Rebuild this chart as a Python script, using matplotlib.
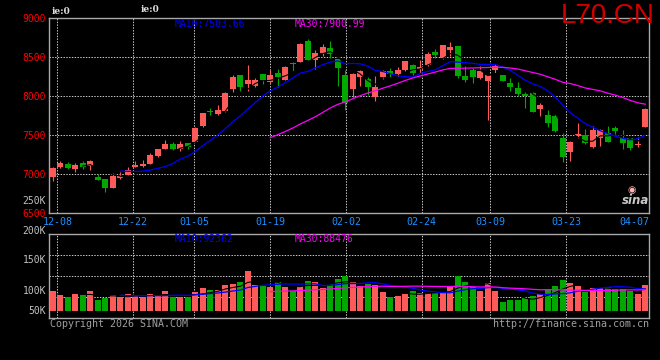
import matplotlib
matplotlib.use('Agg')
import matplotlib.pyplot as plt
import numpy as np
import pandas as pd
from matplotlib.transforms import blended_transform_factory

# ---------------- data ----------------
opens = [6962, 7085, 7128, 7064, 7145, 7100, 6962, 6936, 6821, 6945,
         6990, 7090, 7098, 7133, 7231, 7321, 7385, 7321, 7398, 7415,
         7616, 7802, 7770, 7807, 8090, 8269, 8154, 8128, 8282, 8179,
         8295, 8205, 8412, 8436, 8705, 8461, 8551, 8615, 8474, 8269,
         8090, 8243, 8218, 7987, 8248, 8320, 8282, 8333, 8397, 8350,
         8397, 8564, 8487, 8590, 8641, 8256, 8334, 8235, 8193, 8334,
         8270, 8167, 8103, 8026, 8039, 7834, 7757, 7744, 7462, 7286,
         7492, 7500, 7351, 7466, 7530, 7590, 7466, 7458, 7372, 7603]
closes = [7081, 7140, 7081, 7116, 7095, 7165, 6923, 6825, 6975, 6975,
          7051, 7120, 7128, 7244, 7321, 7385, 7321, 7385, 7351, 7594,
          7778, 7797, 7820, 8038, 8243, 8115, 8205, 8205, 8205, 8269,
          8243, 8372, 8408, 8666, 8466, 8551, 8628, 8538, 8359, 7906,
          8282, 8320, 8120, 8115, 8320, 8282, 8333, 8449, 8300, 8372,
          8538, 8526, 8654, 8632, 8260, 8205, 8248, 8321, 8270, 8389,
          8193, 8116, 8026, 7996, 7795, 7885, 7654, 7552, 7222, 7411,
          7510, 7398, 7564, 7560, 7415, 7556, 7398, 7338, 7389, 7834]
highs = [7085, 7165, 7154, 7140, 7167, 7180, 7000, 6940, 7009, 7020,
         7094, 7171, 7180, 7274, 7325, 7436, 7410, 7423, 7400, 7600,
         7780, 7842, 7885, 8045, 8269, 8275, 8397, 8235, 8285, 8329,
         8346, 8380, 8436, 8680, 8731, 8590, 8662, 8705, 8480, 8333,
         8290, 8330, 8240, 8252, 8338, 8355, 8376, 8455, 8410, 8461,
         8568, 8602, 8660, 8688, 8645, 8385, 8355, 8385, 8275, 8410,
         8275, 8227, 8176, 8047, 8045, 7915, 7821, 7765, 7522, 7428,
         7654, 7580, 7616, 7577, 7620, 7620, 7565, 7466, 7475, 7840]
lows = [6915, 7080, 7060, 7030, 7060, 7045, 6920, 6774, 6815, 6940,
        6985, 7085, 7095, 7130, 7214, 7318, 7305, 7299, 7316, 7405,
        7607, 7757, 7757, 7800, 8047, 8064, 8064, 8115, 8154, 8162,
        8115, 8200, 8325, 8430, 8460, 8346, 8517, 8483, 8128, 7820,
        7991, 8128, 8013, 7936, 8213, 8240, 8240, 8325, 8270, 8290,
        8390, 8483, 8480, 8513, 8235, 8184, 8171, 8218, 7692, 8290,
        8190, 8064, 8000, 7851, 7790, 7744, 7607, 7535, 7158, 7167,
        7466, 7390, 7338, 7364, 7406, 7500, 7321, 7308, 7351, 7598]
volumes_k = [83, 67, 60, 71, 65, 83, 46, 55, 67, 58,
             71, 62, 60, 71, 67, 83, 60, 60, 60, 79,
             96, 87, 87, 108, 112, 121, 167, 108, 104, 100,
             121, 100, 83, 104, 125, 121, 96, 112, 133, 146,
             121, 104, 112, 108, 79, 58, 62, 71, 83, 75,
             75, 74, 79, 104, 146, 121, 100, 83, 117, 83,
             37, 46, 46, 54, 62, 71, 92, 104, 129, 117,
             103, 80, 96, 96, 100, 92, 92, 85, 71, 108]

date_labels = ['12-08', '12-22', '01-05', '01-19', '02-02', '02-24', '03-09', '03-23']
date_label_idx = [1, 11, 19, 29, 39, 49, 58, 68]
last_date_label = '04-07'
price_ticks = [6500, 7000, 7500, 8000, 8500, 9000]
vol_tick_labels = ['250K', '200K', '150K', '100K', '50K']
price_ma_texts = ['MA10:7503.66', 'MA30:7900.99']
vol_ma_texts = ['MA10:92362', 'MA30:88476']
symbol = 'L70.CN'

# ---------------- style ----------------
RED = '#ff5a5a'
GREEN = '#00a800'
GRID = '#c8c8c8'
FRAME = '#a8a8a8'
MONO = 'DejaVu Sans Mono'
W, H = 660, 360

n = len(closes)
x = np.arange(n)
o = np.array(opens, float)
c = np.array(closes, float)
hi = np.array(highs, float)
lo = np.array(lows, float)
v = np.array(volumes_k, float)
up = c >= o
cols = np.where(up, RED, GREEN)

fig = plt.figure(figsize=(W / 100, H / 100), dpi=100, facecolor='black')

def px_axes(left, top, right, bottom):
    return fig.add_axes([left / W, (H - bottom) / H, (right - left) / W, (bottom - top) / H])

ax1 = px_axes(49, 18, 649, 213)
ax2 = px_axes(49, 234, 649, 318)

for ax in (ax1, ax2):
    ax.set_facecolor('black')
    ax.set_xlim(-0.5, n - 0.5)
    for s in ax.spines.values():
        s.set_color(FRAME)
        s.set_linewidth(1.0)
    ax.set_xticks([])

dot = (0, (1.4, 1.4))
grid_x = [i * n / (n - 1) - 0.407 for i in date_label_idx]

# ---------------- price panel ----------------
ax1.set_ylim(price_ticks[0], price_ticks[-1])
for g in grid_x:
    ax1.axvline(g, color=GRID, lw=0.72, ls=dot, zorder=1)
for t in price_ticks[1:-1]:
    ax1.axhline(t, color=GRID, lw=0.72, ls=dot, zorder=1)

ax1.vlines(x, lo, hi, colors=cols, lw=0.8, zorder=2)
body_h = np.maximum(np.abs(c - o), 10)
ax1.bar(x, body_h, bottom=np.minimum(o, c), width=0.8, color=cols, lw=0, zorder=3)

cs = pd.Series(c)
ax1.plot(x, cs.rolling(5).mean(), color='black', lw=0.8, zorder=4)
ax1.plot(x, cs.rolling(10).mean(), color='#0000ff', lw=0.9, zorder=5)
ax1.plot(x, cs.rolling(30).mean(), color='#ff00ff', lw=0.9, zorder=5)

ax1.set_yticks(price_ticks)
ax1.set_yticklabels([str(t) for t in price_ticks], color='#ff0000', fontsize=7, family=MONO)
ax1.tick_params(axis='y', length=0, pad=2.3)

tr = blended_transform_factory(ax1.transData, ax1.transAxes)
for g, lab in zip(grid_x, date_labels):
    ax1.text(g, -0.044, lab, transform=tr, ha='center', va='center',
             color='#1e90ff', fontsize=7.2, family=MONO)
ax1.text(n - 0.5, -0.044, last_date_label, transform=tr, ha='right', va='center',
         color='#1e90ff', fontsize=7.2, family=MONO)

# ---------------- volume panel ----------------
k_per_px = 4.165
ax2.set_ylim(-7 * k_per_px, 77 * k_per_px)
for g in grid_x:
    ax2.axvline(g, color=GRID, lw=0.72, ls=dot, zorder=1)
for f in (0.25, 0.5, 0.75):
    ax2.plot([0, 1], [f, f], transform=ax2.transAxes, color=GRID, lw=0.72, ls=dot, zorder=1)
ax2.set_yticks([])
ax2.bar(x, v, width=0.8, color=cols, lw=0, zorder=3)
vs = pd.Series(v)
ax2.plot(x, vs.rolling(5).mean(), color='black', lw=0.8, zorder=4)
ax2.plot(x, vs.rolling(10).mean(), color='#0000ff', lw=0.9, zorder=5)
ax2.plot(x, vs.rolling(30).mean(), color='#ff00ff', lw=0.9, zorder=5)

for lab, yp in zip(vol_tick_labels, [201, 231, 260, 291, 311]):
    fig.text(46 / W, (H - yp) / H, lab, ha='right', va='center', color='#c0c0c0',
             fontsize=7, family=MONO)

# ---------------- header / footer texts ----------------
fig.text(175 / W, (H - 24) / H, price_ma_texts[0], color='#0000ff', fontsize=7, family=MONO, va='center')
fig.text(295 / W, (H - 24) / H, price_ma_texts[1], color='#ff00ff', fontsize=7, family=MONO, va='center')
fig.text(175 / W, (H - 239) / H, vol_ma_texts[0], color='#0000ff', fontsize=7, family=MONO, va='center')
fig.text(295 / W, (H - 239) / H, vol_ma_texts[1], color='#ff00ff', fontsize=7, family=MONO, va='center')

fig.text(655 / W, (H - 16) / H, symbol, color='#d00000', fontsize=20,
         family='Liberation Sans', ha='right', va='center')
fig.text(52 / W, (H - 12) / H, 'ie:0', color='#e0e0e0', fontsize=6.5,
         family='DejaVu Serif', fontweight='bold', va='center')
fig.text(141 / W, (H - 10) / H, 'ie:0', color='#e0e0e0', fontsize=6.5,
         family='DejaVu Serif', fontweight='bold', va='center')

fig.text(50 / W, (H - 324) / H, 'Copyright 2026 SINA.COM', color='#a0a0a0', fontsize=7.2,
         family=MONO, va='center', ha='left')
fig.text(649 / W, (H - 324) / H, 'http://finance.sina.com.cn', color='#a0a0a0', fontsize=7.2,
         family=MONO, va='center', ha='right')

fig.text(636 / W, (H - 201) / H, 'sina', color='#c8c8c8', fontsize=8.5, fontweight='bold',
         style='italic', family='DejaVu Sans', ha='center', va='center')
fig.text(632 / W, (H - 190) / H, '\u25c9', color='#ffb0b0', fontsize=7,
         family='DejaVu Sans', ha='center', va='center')

fig.savefig('out.png', dpi=100, facecolor='black')
